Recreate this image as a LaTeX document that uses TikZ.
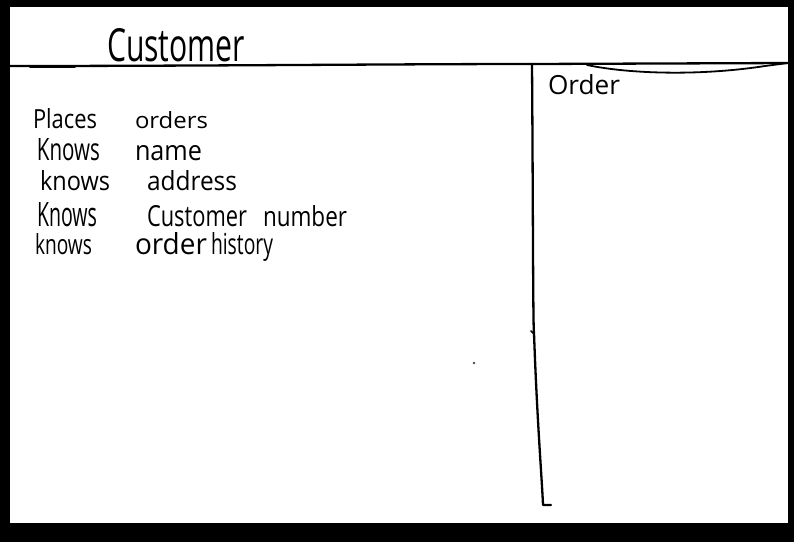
\documentclass[tikz,border=0pt]{standalone}
\usepackage{fontspec}
\setmainfont{Open Sans}
\usepackage{graphicx}
\newcommand\hw[3]{\resizebox{#1pt}{#2pt}{#3}}
\tikzset{
  word/.style={anchor=base west, inner sep=0pt, outer sep=0pt},
  pen/.style={line width=2.3pt, line cap=round, line join=round, black}
}
\begin{document}
\begin{tikzpicture}[x=1pt,y=-1pt]
\useasboundingbox (0,0) rectangle (794,542);
\fill[black] (0,0) rectangle (794,542);
\fill[white] (10,7) rectangle (788,523);
% card lines
\coordinate (hl) at (10,66);
\coordinate (hm) at (532,64);
\coordinate (hr) at (788,63);
\coordinate (vb) at (543,505);
\coordinate (vf) at (551,505);
\draw[pen] (hl) .. controls (200,66) and (400,64) .. (hm) -- (hr);
\draw[pen,line width=3pt] (30,66) -- (75,66);
\draw[pen,line width=1.8pt] (587,65) .. controls (630,74) and (700,76) .. (765,66) -- (hr);
\draw[pen] (hm) .. controls (533,200) and (533,330) .. (534,333) .. controls (537,420) and (542,480) .. (vb) -- (vf);
\draw[pen,line width=1.5pt] (531,331) -- (534,334);
\fill[black!70] (474,363) circle (1.3);
% titles
\node[word] (title) at (107,61) {\hw{138}{33}{Customer}};
\node[word] (order) at (548,94) {\hw{72}{20}{Order}};
% responsibilities
\node[word] (r1a) at (33,128) {\hw{64}{20}{Places}};
\node[word] (r1b) at (135,128) {\hw{73}{17}{orders}};
\node[word] (r2a) at (37,160) {\hw{63}{22}{Knows}};
\node[word] (r2b) at (135,160) {\hw{67}{15}{name}};
\node[word] (r3a) at (40,190) {\hw{70}{20}{knows}};
\node[word] (r3b) at (147,190) {\hw{90}{20}{address}};
\node[word] (r4a) at (37,226) {\hw{60}{24}{Knows}};
\node[word] (r4b) at (147,226) {\hw{100}{21}{Customer}};
\node[word] (r4c) at (263,226) {\hw{84}{21}{number}};
\node[word] (r5a) at (35,254) {\hw{57}{21}{knows}};
\node[word] (r5b) at (135,254) {\hw{72}{22}{order}};
\node[word] (r5c) at (211,254) {\hw{62}{22}{history}};
\end{tikzpicture}
\end{document}
